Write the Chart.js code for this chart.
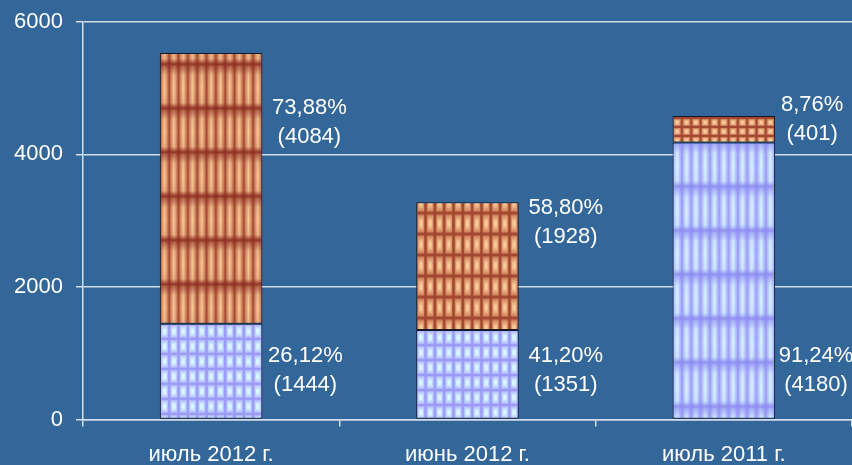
<!DOCTYPE html>
<html lang="ru">
<head>
<meta charset="utf-8">
<script src="https://cdn.jsdelivr.net/npm/chart.js@4.4.1/dist/chart.umd.min.js"></script>
<style>
  html, body { margin: 0; padding: 0; background: #336699; }
  #wrap { width: 852px; height: 465px; }
</style>
</head>
<body>
<div id="wrap"><canvas id="barChart"></canvas></div>
<script>
const months = ['июль 2012 г.', 'июнь 2012 г.', 'июль 2011 г.'];
const lowerValues = [1444, 1351, 4180];   // нижняя (голубая) часть столбца
const upperValues = [4084, 1928, 401];    // верхняя (коричневая) часть
const lowerShares = [26.12, 41.20, 91.24];
const upperShares = [73.88, 58.80, 8.76];
const yTicks = [0, 2000, 4000, 6000];

// текстуры заливки по столбцам
const lowerTextures = ['grid', 'grid', 'stripes'];
const upperTextures = ['stripes', 'tiles', 'bricks'];

const palette = {
    brown: { edge: '#a04631', mid: '#d3845e', light: '#f9cd9c', band: '#8a2a1e' },
    blue:  { edge: '#9c9af6', mid: '#b6c0ff', light: '#dafaff', band: '#8b8af0' }
};

function hexRgb(c) {
    return [1, 3, 5].map(i => parseInt(c.slice(i, i + 2), 16));
}
function rgba(c, a) {
    return 'rgba(' + hexRgb(c).join(',') + ',' + a + ')';
}
function mix(a, b, t) {
    const A = hexRgb(a), B = hexRgb(b);
    return 'rgb(' + A.map((v, i) => Math.round(v + (B[i] - v) * t)).join(',') + ')';
}

// вертикальные полосы с тёмными поперечными поясами
function stripeTile(w, h, p) {
    const cv = document.createElement('canvas');
    cv.width = Math.ceil(w);
    cv.height = h;
    const g = cv.getContext('2d');
    const cw = w / 11;
    for (let k = 0; k < 11; k++) {
        const x0 = k * cw;
        const gr = g.createLinearGradient(x0, 0, x0 + cw, 0);
        gr.addColorStop(0, p.edge);
        gr.addColorStop(0.18, p.mid);
        gr.addColorStop(0.5, p.light);
        gr.addColorStop(0.82, p.mid);
        gr.addColorStop(1, p.edge);
        g.fillStyle = gr;
        g.fillRect(x0, 0, cw + 0.5, h);
    }
    const vg = g.createLinearGradient(0, 0, 0, h);
    vg.addColorStop(0, rgba(p.band, 0.95));
    vg.addColorStop(0.05, rgba(p.band, 0.6));
    vg.addColorStop(0.25, rgba(p.band, 0.08));
    vg.addColorStop(0.55, rgba(p.band, 0));
    vg.addColorStop(0.88, rgba(p.band, 0.1));
    vg.addColorStop(1, rgba(p.band, 0.9));
    g.fillStyle = vg;
    g.fillRect(0, 0, cv.width, h);
    return cv;
}

// клетки с рамкой и светлым центром
function cellTile(w, h, p, border) {
    const cv = document.createElement('canvas');
    cv.width = Math.ceil(w);
    cv.height = Math.ceil(h);
    const g = cv.getContext('2d');
    g.fillStyle = p.edge;
    g.fillRect(0, 0, cv.width, cv.height);
    const cw = w / 11;
    const steps = 5;
    for (let k = 0; k < 11; k++) {
        const x0 = k * cw;
        for (let s = 0; s < steps; s++) {
            const ix = border + s * (cw / 2 - border - 0.8) / steps;
            const iy = border + s * (h / 2 - border - 1) / steps;
            g.fillStyle = mix(p.mid, p.light, s / (steps - 1));
            g.fillRect(x0 + ix, iy, cw - 2 * ix, h - 2 * iy);
        }
    }
    return cv;
}

function makeTile(kind, w, p) {
    if (kind === 'stripes') return stripeTile(w, 44, p);
    if (kind === 'tiles') return cellTile(w, 20.7, p, 1.3);
    if (kind === 'bricks') return cellTile(w, 9, p, 1.1);
    return cellTile(w, 15, p, 1.2);
}

function textureFill(c, kinds, pal, isUpper) {
    const chart = c.chart;
    if (c.type !== 'data' || !chart.chartArea) return pal.mid;
    const x = chart.scales.x, y = chart.scales.y;
    const i = c.dataIndex;
    const bw = (x.width / months.length) * 0.4;
    const left = x.getPixelForValue(i) - bw / 2;
    const top = y.getPixelForValue(isUpper ? lowerValues[i] + upperValues[i] : lowerValues[i]);
    const pattern = chart.ctx.createPattern(makeTile(kinds[i], bw, pal), 'repeat');
    pattern.setTransform(new DOMMatrix().translate(left, top + (isUpper ? 11 : 0)));
    return pattern;
}

// подписи: доля в процентах и значение в скобках
const labelOffsets = {
    lowerRise: 48,
    upperDrop: [69, 20, 4],
    lowerDx: [43, 47, 41],
    upperDx: [47, 47, 37]
};

const shareLabels = {
    id: 'shareLabels',
    afterDatasetsDraw(chart) {
        const ctx = chart.ctx;
        const fmt = v => v.toFixed(2).replace('.', ',') + '%';
        ctx.save();
        ctx.fillStyle = '#ffffff';
        ctx.font = '22px "Liberation Sans", Arial, sans-serif';
        ctx.textAlign = 'center';
        ctx.textBaseline = 'middle';
        chart.getDatasetMeta(0).data.forEach((bar, i) => {
            const cx = bar.x + bar.width / 2 + labelOffsets.lowerDx[i];
            const cy = bar.base - labelOffsets.lowerRise;
            ctx.fillText(fmt(lowerShares[i]), cx, cy - 14.5);
            ctx.fillText('(' + lowerValues[i] + ')', cx, cy + 14.5);
        });
        chart.getDatasetMeta(1).data.forEach((bar, i) => {
            const cx = bar.x + bar.width / 2 + labelOffsets.upperDx[i];
            const cy = bar.y + labelOffsets.upperDrop[i];
            ctx.fillText(fmt(upperShares[i]), cx, cy - 14.5);
            ctx.fillText('(' + upperValues[i] + ')', cx, cy + 14.5);
        });
        ctx.restore();
    }
};

const lineColor = '#d3ddeb';
const ctx = document.getElementById('barChart').getContext('2d');
const barChart = new Chart(ctx, {
    type: 'bar',
    data: {
        labels: months,
        datasets: [
            {
                data: lowerValues,
                backgroundColor: c => textureFill(c, lowerTextures, palette.blue, false),
                borderColor: '#151a26',
                borderWidth: 1,
                borderSkipped: false
            },
            {
                data: upperValues,
                backgroundColor: c => textureFill(c, upperTextures, palette.brown, true),
                borderColor: '#151a26',
                borderWidth: 1,
                borderSkipped: false
            }
        ]
    },
    options: {
        responsive: true,
        maintainAspectRatio: false,
        animation: false,
        categoryPercentage: 1,
        barPercentage: 0.4,
        layout: { padding: { top: 1, left: 1, right: 0, bottom: -18 } },
        plugins: {
            legend: { display: false },
            tooltip: { enabled: false }
        },
        scales: {
            x: {
                stacked: true,
                grid: { drawOnChartArea: false, drawTicks: true, tickLength: 7, color: lineColor, lineWidth: 1.5 },
                border: { display: true, color: lineColor, width: 1.5 },
                ticks: {
                    color: '#ffffff',
                    padding: 15,
                    maxRotation: 0,
                    font: { family: '"Liberation Sans", Arial, sans-serif', size: 22 }
                }
            },
            y: {
                stacked: true,
                min: 0,
                max: 6000,
                afterBuildTicks: s => { s.ticks = yTicks.map(v => ({ value: v })); },
                grid: { color: lineColor, lineWidth: 1.5, tickLength: 7 },
                border: { display: true, color: lineColor, width: 1.5 },
                ticks: {
                    color: '#ffffff',
                    padding: 13,
                    callback: v => String(v),
                    font: { family: '"Liberation Sans", Arial, sans-serif', size: 22, lineHeight: 0.8 }
                }
            }
        }
    },
    plugins: [shareLabels]
});
</script>
</body>
</html>
